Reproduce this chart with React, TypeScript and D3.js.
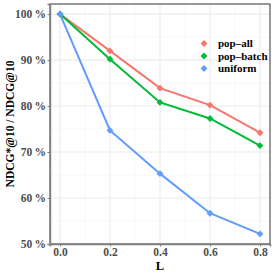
import React, { useRef, useEffect } from 'react';
import * as d3 from 'd3';

const xValues = [0.0, 0.2, 0.4, 0.6, 0.8];
const popAll = [1.0, 0.92, 0.839, 0.802, 0.742];
const popBatch = [1.0, 0.902, 0.808, 0.773, 0.714];
const uniform = [1.0, 0.747, 0.653, 0.567, 0.522];
const seriesNames = ['pop\u2013all', 'pop\u2013batch', 'uniform'];
const seriesColors = ['#F8766D', '#00BA38', '#619CFF'];
const yTicks = [0.5, 0.6, 0.7, 0.8, 0.9, 1.0];
const xTicks = [0.0, 0.2, 0.4, 0.6, 0.8];

const FONT = "'Liberation Serif', 'Times New Roman', Times, serif";

const App = () => {
  const svgRef = useRef<SVGSVGElement>(null);

  useEffect(() => {
    const width = 274;
    const height = 274;
    const margin = { top: 4, right: 4, bottom: 30, left: 50 };

    d3.select(svgRef.current).selectAll('*').remove();
    const svg = d3.select(svgRef.current)
      .attr('width', width)
      .attr('height', height)
      .attr('font-family', FONT);

    const innerWidth = width - margin.left - margin.right;
    const innerHeight = height - margin.top - margin.bottom;

    const x = d3.scaleLinear().domain([-0.04, 0.84]).range([margin.left, margin.left + innerWidth]);
    const y = d3.scaleLinear().domain([0.5, 1.022]).range([margin.top + innerHeight, margin.top]);

    // grid lines, minor first
    const grid = svg.append('g');
    const minorX = [0.1, 0.3, 0.5, 0.7];
    const minorY = [0.55, 0.65, 0.75, 0.85, 0.95];
    grid.selectAll('.mx').data(minorX).enter().append('line')
      .attr('x1', d => x(d)).attr('x2', d => x(d))
      .attr('y1', margin.top).attr('y2', margin.top + innerHeight)
      .attr('stroke', '#F2F2F2').attr('stroke-width', 0.6);
    grid.selectAll('.my').data(minorY).enter().append('line')
      .attr('y1', d => y(d)).attr('y2', d => y(d))
      .attr('x1', margin.left).attr('x2', margin.left + innerWidth)
      .attr('stroke', '#F2F2F2').attr('stroke-width', 0.6);
    grid.selectAll('.gx').data(xTicks).enter().append('line')
      .attr('x1', d => x(d)).attr('x2', d => x(d))
      .attr('y1', margin.top).attr('y2', margin.top + innerHeight)
      .attr('stroke', '#EBEBEB').attr('stroke-width', 1.1);
    grid.selectAll('.gy').data(yTicks).enter().append('line')
      .attr('y1', d => y(d)).attr('y2', d => y(d))
      .attr('x1', margin.left).attr('x2', margin.left + innerWidth)
      .attr('stroke', '#EBEBEB').attr('stroke-width', 1.1);

    // panel border
    svg.append('rect')
      .attr('x', margin.left).attr('y', margin.top)
      .attr('width', innerWidth).attr('height', innerHeight)
      .attr('fill', 'none').attr('stroke', '#333333').attr('stroke-width', 1);

    // axes
    const xAxis = svg.append('g')
      .attr('transform', `translate(0, ${margin.top + innerHeight})`)
      .call(d3.axisBottom(x).tickValues(xTicks).tickFormat(d3.format('.1f')).tickSize(2.5).tickPadding(1.5));
    const yAxis = svg.append('g')
      .attr('transform', `translate(${margin.left}, 0)`)
      .call(d3.axisLeft(y).tickValues(yTicks).tickFormat(d => `${Math.round(+d * 100)}\u2009%`).tickSize(2.5).tickPadding(1.5));
    [xAxis, yAxis].forEach(a => {
      a.attr('font-family', FONT);
      a.select('.domain').attr('stroke', '#7F7F7F').attr('stroke-width', 1.4);
      a.selectAll('.tick line').attr('stroke', '#7F7F7F');
      a.selectAll('.tick text')
        .attr('fill', '#4D4D4D')
        .attr('font-size', 11.5)
        .attr('font-weight', 'bold');
    });

    const all = [popAll, popBatch, uniform];
    const line = d3.line<number>().x((_, i) => x(xValues[i])).y(d => y(d));
    const diamond = d3.symbol().type(d3.symbolDiamond2).size(30);

    all.forEach((vals, k) => {
      svg.append('path')
        .datum(vals)
        .attr('d', line)
        .attr('fill', 'none')
        .attr('stroke', seriesColors[k])
        .attr('stroke-width', 2);
    });
    all.forEach((vals, k) => {
      svg.selectAll(`.pt${k}`)
        .data(vals)
        .enter()
        .append('path')
        .attr('d', diamond)
        .attr('transform', (d, i) => `translate(${x(xValues[i])}, ${y(d)})`)
        .attr('fill', seriesColors[k]);
    });

    // legend
    const legend = svg.append('g').attr('transform', 'translate(204, 43.5)');
    seriesNames.forEach((name, k) => {
      const g = legend.append('g').attr('transform', `translate(0, ${k * 12.5})`);
      g.append('path').attr('d', diamond).attr('fill', seriesColors[k]);
      g.append('text')
        .attr('x', 14).attr('y', 0).attr('dy', '0.35em')
        .attr('font-size', 11)
        .attr('font-weight', 'bold')
        .attr('fill', '#000')
        .text(name);
    });

    // axis titles
    svg.append('text')
      .attr('x', x(0.4)).attr('y', 270)
      .attr('text-anchor', 'middle')
      .attr('font-size', 12.5)
      .attr('font-weight', 'bold')
      .text('L');
    svg.append('text')
      .attr('transform', `translate(14, ${margin.top + innerHeight / 2}) rotate(-90)`)
      .attr('text-anchor', 'middle')
      .attr('font-size', 11.5)
      .attr('font-weight', 'bold')
      .text('NDCG*@10 / NDCG@10');
  }, []);

  return (
    <div style={{ position: 'absolute', left: 0, top: 0 }}>
      <svg ref={svgRef} style={{ display: 'block' }}></svg>
    </div>
  );
};

export default App;
